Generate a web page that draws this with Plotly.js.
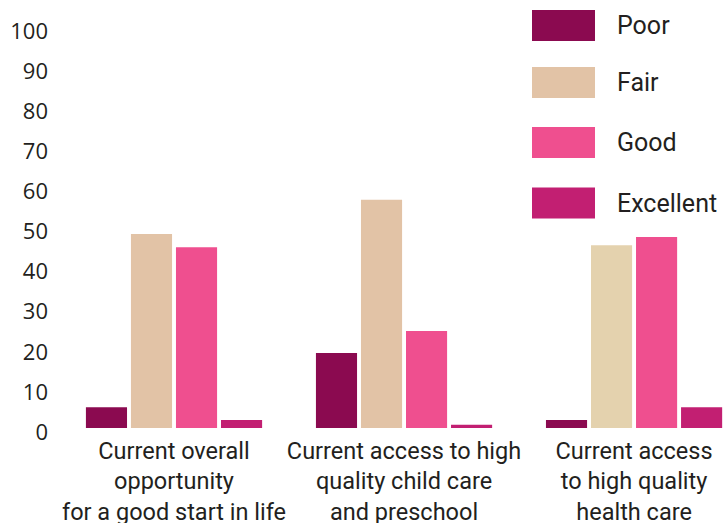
<!DOCTYPE html>
<html>
<head>
<meta charset="utf-8">
<script src="https://cdn.plot.ly/plotly-3.0.1.min.js"></script>
<style>html,body{margin:0;padding:0;background:#fff;}#chart{width:724px;height:523px;}</style>
</head>
<body>
<div id="chart"></div>
<script>
const categories = [
  "Current overall<br>opportunity<br>for a good start in life",
  "Current access to high<br>quality child care<br>and preschool",
  "Current access<br>to high quality<br>health care"
];
const seriesNames = ["Poor", "Fair", "Good", "Excellent"];
const poor = [5.2, 18.7, 2.0];
const fair = [48.4, 56.9, 45.6];
const good = [45.1, 24.2, 47.6];
const excellent = [2.0, 0.8, 5.2];
const yTickVals = [0, 10, 20, 30, 40, 50, 60, 70, 80, 90, 100];

const colors = ["#8b0a50", "#e2c3a6", "#ef4f8f", "#c21f72"];
const fairColors = ["#e2c3a6", "#e2c3a6", "#e4d2ae"];
const values = [poor, fair, good, excellent];

const W = 724, H = 523;
const M = {l: 59, r: 0, t: 27, b: 95};
const pw = W - M.l - M.r, ph = H - M.t - M.b;
const px2x = x => (x - M.l) / pw;
const px2y = y => (H - M.b - y) / ph;

const traces = seriesNames.map((n, i) => ({
  type: "bar",
  name: n,
  x: categories,
  y: values[i],
  marker: {color: i === 1 ? fairColors : colors[i]},
  showlegend: false,
  hoverinfo: "none"
}));

// custom legend (large swatches)
const shapes = [], annotations = [];
const legendCenters = [25.5, 82.5, 142.5, 203];
seriesNames.forEach((n, i) => {
  const c = legendCenters[i];
  shapes.push({
    type: "rect", xref: "paper", yref: "paper",
    x0: px2x(532), x1: px2x(595), y0: px2y(c + 15.5), y1: px2y(c - 15.5),
    fillcolor: colors[i], line: {width: 0}
  });
  annotations.push({
    xref: "paper", yref: "paper", x: px2x(615), y: px2y(c),
    xanchor: "left", yanchor: "middle", showarrow: false,
    text: n, font: {family: "Roboto, sans-serif", size: 25, color: "#231f20"}
  });
});

const layout = {
  width: W, height: H,
  margin: M,
  paper_bgcolor: "#ffffff", plot_bgcolor: "#ffffff",
  barmode: "group",
  bargap: 0.217,
  bargroupgap: 0.087,
  showlegend: false,
  xaxis: {
    type: "category",
    range: [-0.5, 2.391],
    showgrid: false, zeroline: false, showline: false, ticks: "",
    tickfont: {family: "Roboto, sans-serif", size: 23.5, color: "#231f20"},
    tickangle: 0,
    ticklabelstandoff: 6
  },
  yaxis: {
    range: [0, 100],
    tickvals: yTickVals,
    showgrid: false, zeroline: false, showline: false, ticks: "",
    tickfont: {family: "Open Sans, sans-serif", size: 22, color: "#231f20"},
    ticklabelshift: 4,
    ticklabelstandoff: 10
  },
  shapes: shapes,
  annotations: annotations
};

Plotly.newPlot("chart", traces, layout, {displayModeBar: false, staticPlot: true});
</script>
</body>
</html>
